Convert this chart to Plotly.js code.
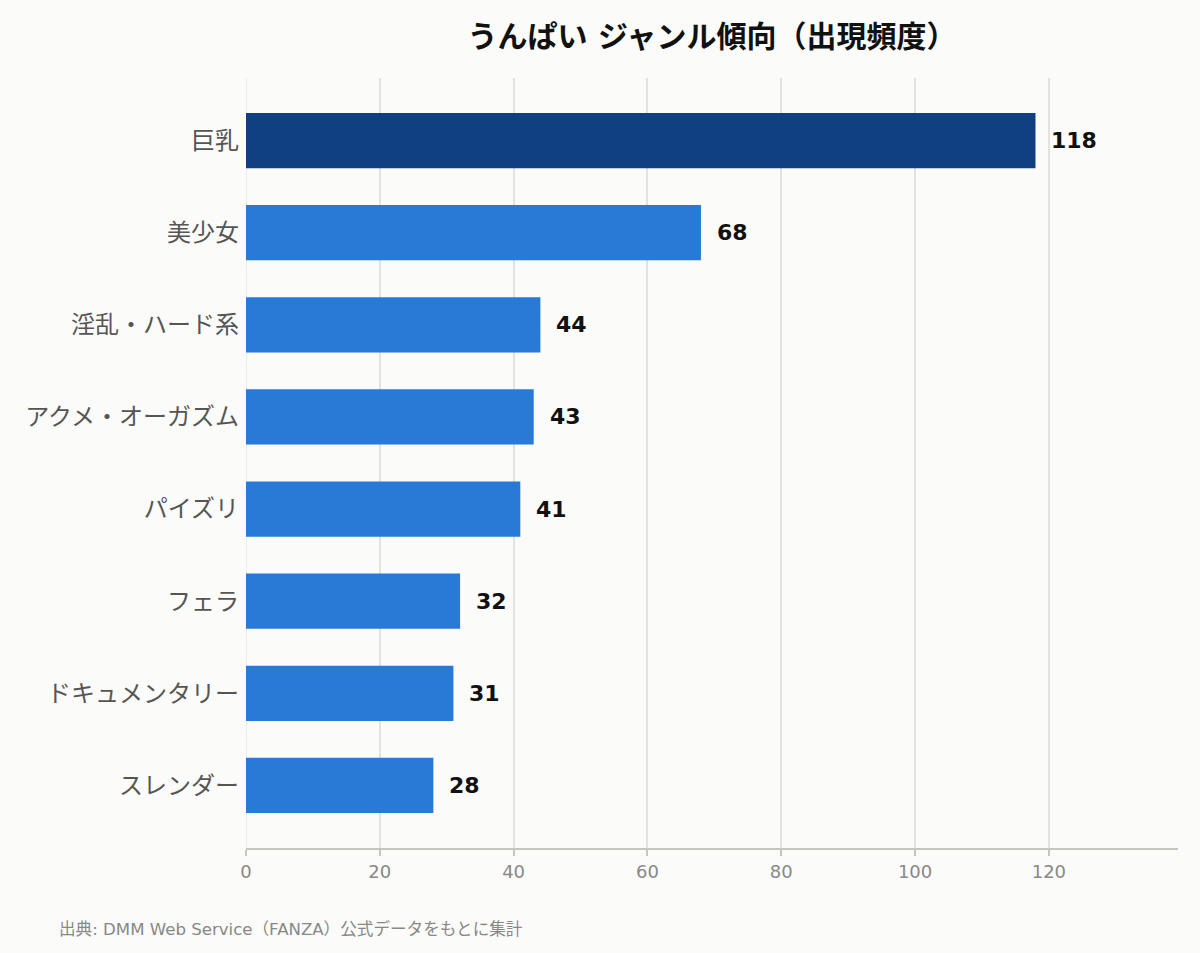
<!DOCTYPE html>
<html>
<head>
<meta charset="utf-8">
<script src="https://cdn.plot.ly/plotly-3.0.1.min.js"></script>
<style>
  html, body { margin: 0; padding: 0; background: #fbfbf9; }
  #chart { width: 1200px; height: 953px; }
</style>
</head>
<body>
<div id="chart"></div>
<script>
// 出現頻度 (上から順)
const genres = ['巨乳', '美少女', '淫乱・ハード系', 'アクメ・オーガズム', 'パイズリ', 'フェラ', 'ドキュメンタリー', 'スレンダー']
const counts = [118, 68, 44, 43, 41, 32, 31, 28]
const xTicks = [0, 20, 40, 60, 80, 100, 120]

const font = '"DejaVu Sans", "Noto Sans CJK JP", sans-serif'
const barColors = counts.map((v, i) => i === 0 ? '#10407f' : '#2979d6')

const data = [{
    type: 'bar',
    orientation: 'h',
    y: genres,
    x: counts,
    width: 0.6,
    marker: { color: barColors },
    hoverinfo: 'skip'
}]

// 値ラベル
const labels = counts.map((v, i) => ({
    x: v,
    y: genres[i],
    text: String(v),
    showarrow: false,
    xanchor: 'left',
    xshift: 14,
    font: { family: '"DejaVu Sans", sans-serif', size: 22, color: '#111', weight: 'bold' }
}))

// 出典
labels.push({
    xref: 'paper', yref: 'paper',
    x: (60 - 246) / (1178 - 246),
    y: -(929 - 848) / (848 - 78),
    xanchor: 'left', yanchor: 'middle',
    xshift: -3,
    text: '出典: DMM Web Service（FANZA）公式データをもとに集計',
    showarrow: false,
    font: { family: font, size: 16.6, color: '#888' }
})

const layout = {
    width: 1200,
    height: 953,
    paper_bgcolor: '#fbfbf9',
    plot_bgcolor: '#fbfbf9',
    margin: { l: 246, r: 22, t: 78, b: 105 },
    showlegend: false,
    title: {
        text: '<b>うんぱい ジャンル傾向（出現頻度）</b>',
        x: 0.5, xref: 'paper',
        y: 0.962, yanchor: 'middle',
        font: { family: font, size: 30, color: '#111' }
    },
    xaxis: {
        range: [0, 139.3],
        tickvals: xTicks,
        showgrid: true,
        gridcolor: '#e2e2de',
        gridwidth: 2,
        zeroline: true,
        zerolinecolor: '#ececea',
        zerolinewidth: 1,
        showline: true,
        linecolor: '#c6c6be',
        linewidth: 2,
        ticks: 'outside',
        ticklen: 6,
        tickwidth: 2,
        tickcolor: '#c6c6be',
        tickfont: { family: font, size: 18, color: '#888' },
        fixedrange: true
    },
    yaxis: {
        autorange: false,
        range: [7.68, -0.68],
        showgrid: false,
        zeroline: false,
        showline: false,
        ticks: '',
        ticklabelstandoff: 6,
        tickfont: { family: font, size: 24, color: '#555' },
        fixedrange: true
    },
    annotations: labels
}

Plotly.newPlot('chart', data, layout, { displayModeBar: false, staticPlot: true })
</script>
</body>
</html>
